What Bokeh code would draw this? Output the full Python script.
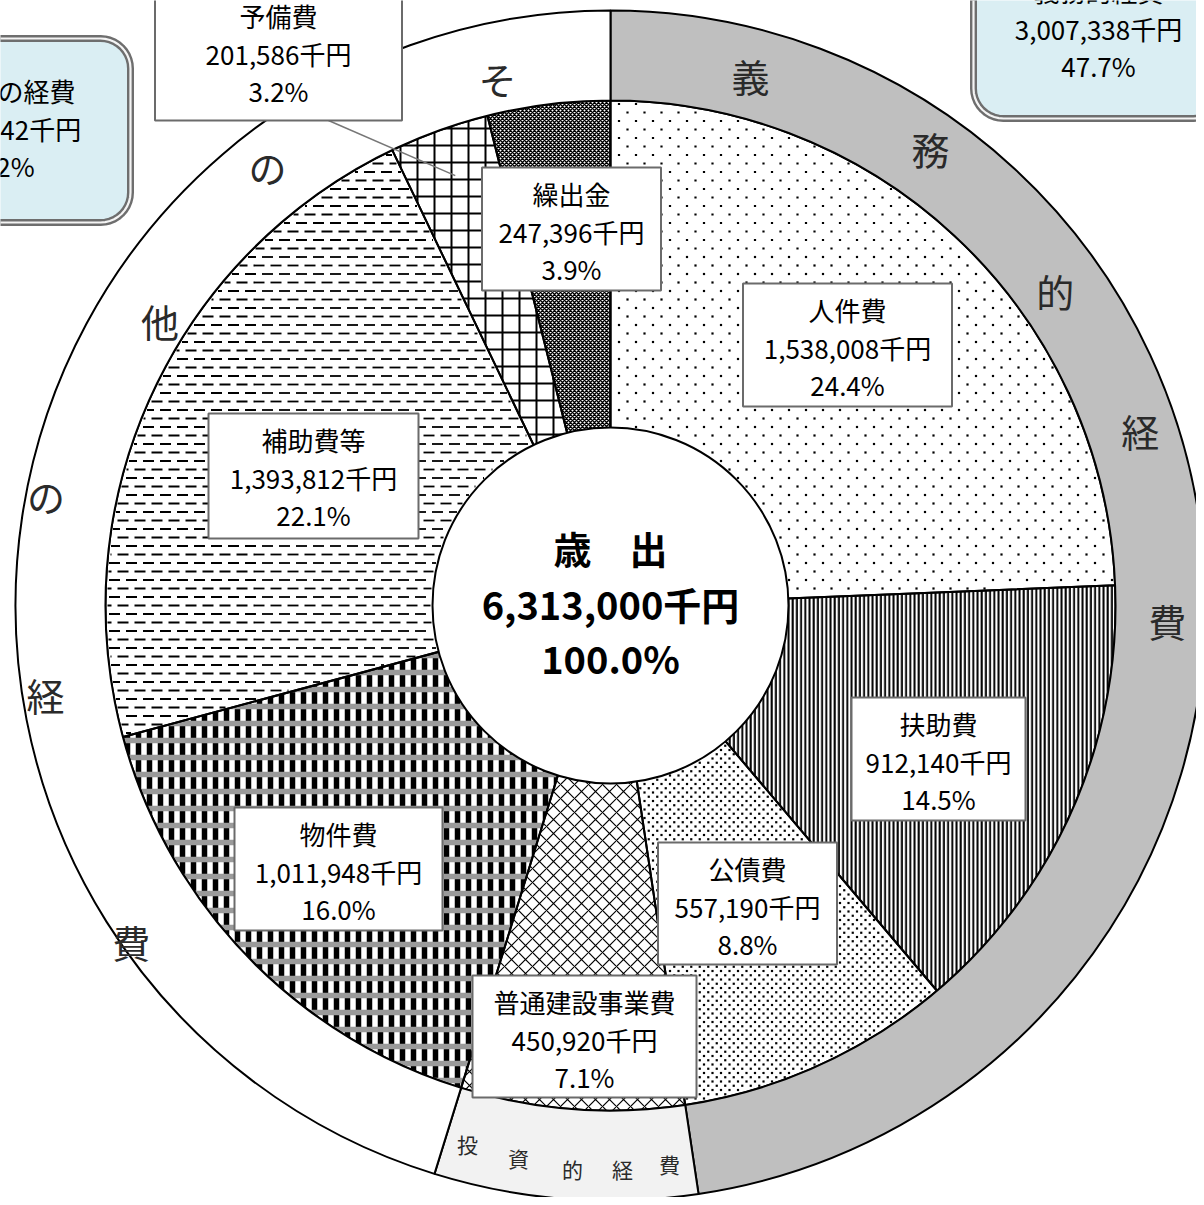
import math
from bokeh.plotting import figure
from bokeh.models import Range1d, ColumnDataSource
from bokeh.core.properties import value
from bokeh.embed import file_html
from bokeh.resources import INLINE

# ---------------- data ----------------
categories = ["人件費", "扶助費", "公債費", "普通建設事業費", "物件費", "補助費等", "予備費", "繰出金"]
amounts = [1538008, 912140, 557190, 450920, 1011948, 1393812, 201586, 247396]
percents = ["24.4%", "14.5%", "8.8%", "7.1%", "16.0%", "22.1%", "3.2%", "3.9%"]
total_title = "歳　出"
total_amount = 6313000
total_percent = "100.0%"

groups = ["義務的経費", "投資的経費", "その他の経費"]
group_amounts = [3007338, 450920, 2854742]
group_percents = ["47.7%", "7.1%", "45.2%"]
group_colors = ["#bfbfbf", "#f2f2f2", "#ffffff"]

# ---------------- styles / layout ----------------
JP = value("Noto Sans CJK JP")
CX, CY = 610, 605          # pie centre in page pixels


def X(px):
    return px - CX


def Y(py):
    return CY - py


R_HOLE, R_PIE, R_RING = 178, 505, 595

# hatch used by Bokeh (None -> hand drawn texture below)
hatch_pattern = [" ", "|", " ", "x", "|", " ", "+", "x"]
hatch_scale = [12, 4.2, 12, 14, 11, 12, 17, 4]
hatch_weight = [1, 2.0, 1, 1.2, 5.5, 1, 2, 1.5]

# label boxes: centre x, top, bottom (page px); width
box_cx = [847, 938, 747, 584, 338, 313, 278, 571]
box_w = [209, 174, 179, 224, 208, 210, 247, 179]
box_top = [283, 697, 842, 975, 807, 413, -11, 167]
box_bot = [406, 820, 964, 1097, 930, 538, 120, 290]

W, H = 1196, 1197
p = figure(width=W, height=H,
           x_range=Range1d(X(0), X(W)), y_range=Range1d(Y(H), Y(0)),
           output_backend="svg", toolbar_location=None,
           x_axis_location=None, y_axis_location=None,
           min_border=0, outline_line_color=None)
p.grid.visible = False
p.background_fill_color = "white"
p.border_fill_color = "white"

total = float(sum(amounts))
cum = [0.0]
for a in amounts:
    cum.append(cum[-1] + a / total)
starts = [math.pi / 2 - 2 * math.pi * cum[i + 1] for i in range(len(amounts))]
ends = [math.pi / 2 - 2 * math.pi * cum[i] for i in range(len(amounts))]

src = ColumnDataSource(dict(start=starts, end=ends, hp=hatch_pattern,
                            hs=hatch_scale, hw=hatch_weight))
p.wedge(x=0, y=0, radius=R_PIE, start_angle="start", end_angle="end",
        direction="anticlock", source=src, fill_color="white",
        hatch_pattern="hp", hatch_scale="hs", hatch_weight="hw",
        hatch_color="black", line_color=None)

# extra horizontal grey bands for 物件費 (checker look)
k = categories.index("物件費")
p.wedge(x=0, y=0, radius=R_PIE, start_angle=starts[k], end_angle=ends[k],
        direction="anticlock", fill_alpha=0, hatch_pattern="-",
        hatch_scale=17, hatch_weight=5.5, hatch_color="#9a9a9a", line_color=None)


# ---- hand drawn textures (fine dots / dashes) ----
def inside(x, y, i, margin=2.0):
    r = math.hypot(x, y)
    if r < R_HOLE + margin or r > R_PIE - margin:
        return False
    ang = math.atan2(x, y) % (2 * math.pi)   # clockwise from top
    a0, a1 = 2 * math.pi * cum[i], 2 * math.pi * cum[i + 1]
    if not (a0 <= ang <= a1):
        return False
    return r * math.sin(ang - a0) > margin and r * math.sin(a1 - ang) > margin


def dot_lattice(i, dx, dy):
    xs, ys = [], []
    nrow = int(2 * R_PIE / dy) + 2
    for j in range(-nrow // 2, nrow // 2 + 1):
        yy = j * dy
        off = (j % 2) * dx / 2
        ncol = int(2 * R_PIE / dx) + 2
        for c in range(-ncol // 2, ncol // 2 + 1):
            xx = c * dx + off
            if inside(xx, yy, i):
                xs.append(xx)
                ys.append(yy)
    return xs, ys


for name, dx, dy in [("人件費", 17, 8.5), ("公債費", 8.5, 4.25)]:
    i = categories.index(name)
    xs, ys = dot_lattice(i, dx, dy)
    p.scatter(xs, ys, marker="square", size=2.2, fill_color="black", line_color=None)

i = categories.index("補助費等")
x0s, y0s, x1s, y1s = [], [], [], []
dy, period, length = 8.5, 17, 11
nrow = int(2 * R_PIE / dy) + 2
for j in range(-nrow // 2, nrow // 2 + 1):
    yy = j * dy
    off = (j % 2) * period / 2
    ncol = int(2 * R_PIE / period) + 2
    for c in range(-ncol // 2, ncol // 2 + 1):
        xs0 = c * period + off
        run = None
        for t in range(0, length + 1):
            ok = inside(xs0 + t, yy, i, 1.5)
            if ok and run is None:
                run = t
            if (not ok or t == length) and run is not None:
                end_t = t if ok else t - 1
                if end_t > run:
                    x0s.append(xs0 + run); x1s.append(xs0 + end_t)
                    y0s.append(yy); y1s.append(yy)
                run = None
p.segment(x0=x0s, y0=y0s, x1=x1s, y1=y1s, line_color="black", line_width=1.8)

# slice outlines on top of textures
p.wedge(x=0, y=0, radius=R_PIE, start_angle=starts, end_angle=ends,
        direction="anticlock", fill_alpha=0, line_color="black", line_width=2)

# outer ring groups
gcum = [0.0]
for a in group_amounts:
    gcum.append(gcum[-1] + a / total)
gs = [math.pi / 2 - 2 * math.pi * gcum[i + 1] for i in range(3)]
ge = [math.pi / 2 - 2 * math.pi * gcum[i] for i in range(3)]
p.annular_wedge(x=0, y=0, inner_radius=R_PIE, outer_radius=R_RING,
                start_angle=gs, end_angle=ge, direction="anticlock",
                fill_color=group_colors, line_color="black", line_width=2)

# centre hole
p.circle(x=[0], y=[0], radius=R_HOLE, fill_color="white", line_color="black", line_width=2)
p.text(x=[0, 0, 0], y=[Y(547), Y(603), Y(657)],
       text=[total_title, f"{total_amount:,}千円", total_percent],
       text_font=JP, text_font_size=value("38px"), text_font_style="bold",
       text_align="center", text_baseline="middle", text_color="black")

# leader line for 予備費
j = categories.index("予備費")
mid = (starts[j] + ends[j]) / 2
p.line(x=[X(328), 457 * math.cos(mid)], y=[Y(120), 457 * math.sin(mid)],
       line_color="#777777", line_width=1.5)

# label boxes
bx = [X(c) for c in box_cx]
by = [(Y(t) + Y(b)) / 2 for t, b in zip(box_top, box_bot)]
bh = [b - t for t, b in zip(box_top, box_bot)]
p.rect(x=bx, y=by, width=box_w, height=bh, fill_color="white",
       line_color="#6b6b6b", line_width=2)
tx, ty, tt = [], [], []
for i, c in enumerate(categories):
    t0 = box_top[i] + 26
    for n, s in enumerate([c, f"{amounts[i]:,}千円", percents[i]]):
        tx.append(bx[i])
        ty.append(Y(t0 + 37.5 * n))
        tt.append(s)
p.text(x=tx, y=ty, text=tt, text_font=JP, text_font_size=value("26px"),
       text_align="center", text_baseline="middle", text_color="black")

# ring labels (angle clockwise from top in degrees, radius)
ring_chars = list("義務的経費") + list("その他の経費")
ring_pos = [(14.8, 548), (35, 558), (54.7, 545), (71.7, 558), (91.5, 557),
            (347.9, 539), (322, 557), (302.3, 533), (281, 575), (261, 572), (235, 585)]
p.text(x=[r * math.sin(math.radians(a)) for a, r in ring_pos],
       y=[r * math.cos(math.radians(a)) for a, r in ring_pos],
       text=ring_chars, text_font=JP, text_font_size=value("38px"),
       text_align="center", text_baseline="middle", text_color="#2a2a2a")
inv_pos = [(467, 1143), (518, 1157), (572, 1168), (622, 1168), (669, 1163)]
p.text(x=[X(a) for a, b in inv_pos], y=[Y(b) for a, b in inv_pos],
       text=list(groups[1]), text_font=JP, text_font_size=value("21px"),
       text_align="center", text_baseline="middle", text_color="#2a2a2a")


# rounded callouts for groups
def rounded(x0, y0, x1, y1, r, n=10):
    xs, ys = [], []
    corners = [(x1 - r, y1 - r, 0), (x0 + r, y1 - r, 90), (x0 + r, y0 + r, 180), (x1 - r, y0 + r, 270)]
    for cx_, cy_, a0 in corners:
        for t in range(n + 1):
            a = math.radians(a0 + 90 * t / n)
            xs.append(cx_ + r * math.cos(a))
            ys.append(cy_ + r * math.sin(a))
    return xs, ys


callouts = [  # (group index, left, top, right, bottom, text centre x, first line y)
    (2, -136, 38, 130, 222, -3, 90),
    (0, 973, -62, 1223, 118, 1098, -10),
]
for gi, l, t, r_, b, tcx, ly in callouts:
    xs, ys = rounded(X(l), Y(b), X(r_), Y(t), 30)
    p.patch(xs, ys, fill_color="#daeef3", line_color="#6e6e6e", line_width=7, line_join="round")
    p.patch(xs, ys, fill_alpha=0, line_color="#f4f4f4", line_width=2.2, line_join="round")
    lines = [groups[gi], f"{group_amounts[gi]:,}千円", group_percents[gi]]
    p.text(x=[X(tcx)] * 3, y=[Y(ly + 37.5 * n) for n in range(3)], text=lines,
           text_font=JP, text_font_size=value("26px"), text_align="center",
           text_baseline="middle", text_color="black")

open("out.html", "w").write(file_html(p, INLINE))
